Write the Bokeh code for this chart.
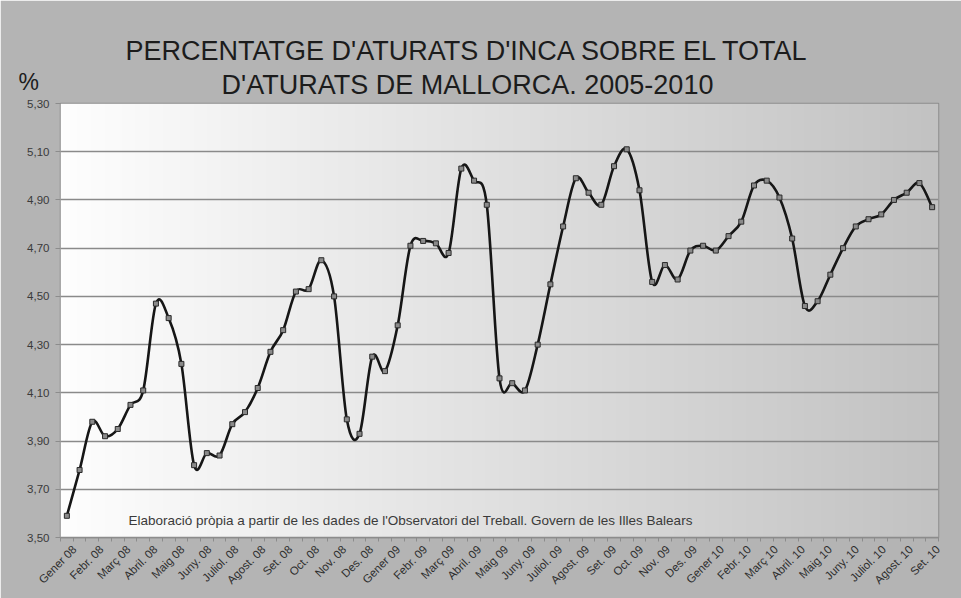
import numpy as np
from bokeh.plotting import figure
from bokeh.models import FixedTicker, CustomJSTickFormatter, Label, ColumnDataSource, Range1d
from bokeh.embed import file_html
from bokeh.resources import INLINE

# ---- data ----
title_lines = ["PERCENTATGE D'ATURATS D'INCA SOBRE EL TOTAL", "D'ATURATS DE MALLORCA. 2005-2010"]
unit_label = "%"
source_note = "Elaboració pròpia a partir de les dades de l'Observatori del Treball. Govern de les Illes Balears"

x_labels = ["Gener 08", "Febr. 08", "Març 08", "Abril. 08", "Maig 08", "Juny. 08", "Juliol. 08",
            "Agost. 08", "Set. 08", "Oct. 08", "Nov. 08", "Des. 08",
            "Gener 09", "Febr. 09", "Març 09", "Abril. 09", "Maig 09", "Juny. 09", "Juliol. 09",
            "Agost. 09", "Set. 09", "Oct. 09", "Nov. 09", "Des. 09",
            "Gener 10", "Febr. 10", "Març 10", "Abril. 10", "Maig 10", "Juny. 10", "Juliol. 10",
            "Agost. 10", "Set. 10"]

pct = [3.59, 3.78, 3.98, 3.92, 3.95, 4.05, 4.11, 4.47, 4.41, 4.22,
       3.80, 3.85, 3.84, 3.97, 4.02, 4.12, 4.27, 4.36, 4.52, 4.53,
       4.65, 4.50, 3.99, 3.93, 4.25, 4.19, 4.38, 4.71, 4.73, 4.72,
       4.68, 5.03, 4.98, 4.88, 4.16, 4.14, 4.11, 4.30, 4.55, 4.79,
       4.99, 4.93, 4.88, 5.04, 5.11, 4.94, 4.56, 4.63, 4.57, 4.69,
       4.71, 4.69, 4.75, 4.81, 4.96, 4.98, 4.91, 4.74, 4.46, 4.48,
       4.59, 4.70, 4.79, 4.82, 4.84, 4.90, 4.93, 4.97, 4.87]

y_ticks = [3.50, 3.70, 3.90, 4.10, 4.30, 4.50, 4.70, 4.90, 5.10, 5.30]

# ---- figure ----
n = len(pct)
xs = np.arange(n, dtype=float)
ys = np.array(pct, dtype=float)

x0, x1 = -0.5, n - 0.5
y0, y1 = y_ticks[0], y_ticks[-1]

FONT = "Liberation Sans"

p = figure(width=961, height=598, output_backend="svg", toolbar_location=None,
           x_range=Range1d(x0, x1), y_range=Range1d(y0, y1),
           min_border_left=60, min_border_right=23, min_border_top=103, min_border_bottom=61)

p.background_fill_color = "#b4b4b4"
p.border_fill_color = "#b4b4b4"
p.outline_line_color = "#8c8c8c"
p.outline_line_width = 1.5

# horizontal gradient background of the plot area
N = 256
img = np.empty((1, N), dtype=np.uint32)
view = img.view(dtype=np.uint8).reshape((1, N, 4))
g = np.linspace(254, 194, N).astype(np.uint8)
view[0, :, 0] = g
view[0, :, 1] = g
view[0, :, 2] = g
view[0, :, 3] = 255
p.image_rgba(image=[img], x=x0, y=y0, dw=x1 - x0, dh=y1 - y0, level="image")

# grid
p.xgrid.grid_line_color = None
p.ygrid.grid_line_color = "#8a8a8a"
p.ygrid.grid_line_width = 1.5

# y axis
p.yaxis.ticker = FixedTicker(ticks=y_ticks)
p.yaxis.formatter = CustomJSTickFormatter(code="return tick.toFixed(2).replace('.', ',');")
p.yaxis.axis_line_color = None
p.yaxis.major_tick_line_color = "#8c8c8c"
p.yaxis.major_tick_out = 5
p.yaxis.major_tick_in = 0
p.yaxis.minor_tick_line_color = None
p.yaxis.major_label_text_font = FONT
p.yaxis.major_label_text_font_size = "11.5px"
p.yaxis.major_label_text_color = "#3a3a3a"
p.yaxis.major_label_standoff = 6

# x axis: labels spread along the axis, minor ticks at category boundaries
nl = len(x_labels)
lab_start, lab_end = 0.6, x1 - 0.05
label_pos = [lab_start + k * (lab_end - lab_start) / (nl - 1) for k in range(nl)]
minor = [x0 + k for k in range(n + 1)]
p.xaxis.ticker = FixedTicker(ticks=label_pos, minor_ticks=minor)
p.xaxis.major_label_overrides = dict(zip(label_pos, x_labels))
p.xaxis.major_label_orientation = np.pi / 4
p.xaxis.axis_line_color = "#8c8c8c"
p.xaxis.axis_line_width = 1.5
p.xaxis.major_tick_line_color = None
p.xaxis.minor_tick_line_color = "#8c8c8c"
p.xaxis.minor_tick_out = 4
p.xaxis.minor_tick_in = 0
p.xaxis.major_label_text_font = FONT
p.xaxis.major_label_text_font_size = "11.5px"
p.xaxis.major_label_text_color = "#2e2e2e"
p.xaxis.major_label_standoff = 4

# smoothed line (Catmull-Rom -> cubic Bezier through the data points)
P = np.concatenate([[ys[0]], ys, [ys[-1]]])
X = np.concatenate([[xs[0]], xs, [xs[-1]]])
cx0 = X[1:-2] + (X[2:-1] - X[0:-3]) / 6.0
cy0 = P[1:-2] + (P[2:-1] - P[0:-3]) / 6.0
cx1 = X[2:-1] - (X[3:] - X[1:-2]) / 6.0
cy1 = P[2:-1] - (P[3:] - P[1:-2]) / 6.0
p.bezier(x0=xs[:-1], y0=ys[:-1], x1=xs[1:], y1=ys[1:], cx0=cx0, cy0=cy0, cx1=cx1, cy1=cy1,
         line_color="#161616", line_width=2.6)

src = ColumnDataSource(dict(x=xs, y=ys))
p.scatter("x", "y", source=src, marker="square", size=5,
          fill_color="#8a8a8a", line_color="#2a2a2a", line_width=1)

# texts in canvas coordinates, placed in the top panel so they are not clipped
def canvas_label(x, y, text, size, align="left", baseline="alphabetic", color="#1c1c1c"):
    p.add_layout(Label(x=x, y=y, x_units="canvas", y_units="canvas", text=text,
                       text_font=FONT, text_font_size=size, text_color=color,
                       text_align=align, text_baseline=baseline), "above")

canvas_label(467, 50, title_lines[0], "27px", align="center")
canvas_label(467, 84, title_lines[1], "27px", align="center")
canvas_label(18, 81, unit_label, "23px", baseline="middle")
canvas_label(128, 520, source_note, "13.5px", color="#3a3a3a")

open("out.html", "w").write(file_html(p, INLINE))
